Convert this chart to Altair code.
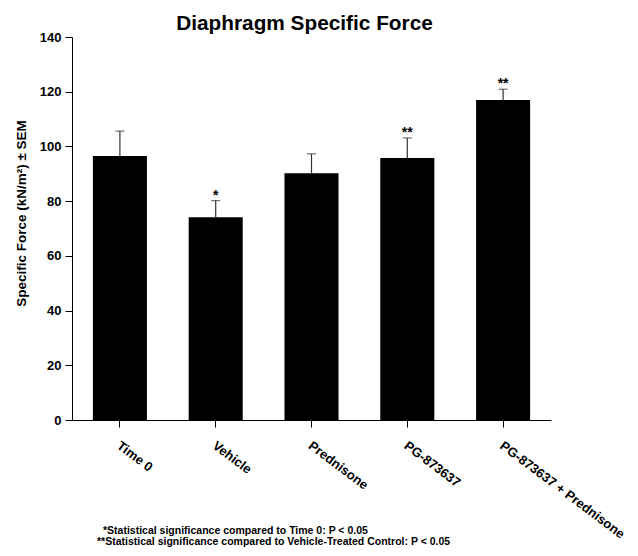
import altair as alt
import pandas as pd

categories = ["Time 0", "Vehicle", "Prednisone", "PG-873637", "PG-873637 + Prednisone"]
means = [96.5, 74.1, 90.2, 95.8, 117.0]
sems = [9.1, 6.1, 7.1, 7.3, 3.9]
stars = ["", "*", "", "**", "**"]
y_ticks = list(range(0, 141, 10))
title_text = "Diaphragm Specific Force"
y_title = "Specific Force (kN/m\u00b2) \u00b1 SEM"
footnotes = [
    "*Statistical significance compared to Time 0: P < 0.05",
    "**Statistical significance compared to Vehicle-Treated Control: P < 0.05",
]

df = pd.DataFrame({"cat": categories, "mean": means, "sem": sems, "star": stars})
df["top"] = df["mean"] + df["sem"]

FONT = "Liberation Sans"

x = alt.X(
    "cat:N",
    sort=categories,
    scale=alt.Scale(paddingInner=0.436, paddingOuter=0.218),
    axis=alt.Axis(
        title=None,
        labelAngle=37,
        labelAlign="left",
        labelBaseline="top",
        labelFontSize=13,
        labelFontWeight="bold",
        labelPadding=12,
        tickSize=7,
        labelOffset=2,
    ),
)
yscale = alt.Scale(domain=[0, 140], nice=False, zero=True)

bars = alt.Chart(df).mark_bar(color="black").encode(
    x=x,
    y=alt.Y(
        "mean:Q",
        scale=yscale,
        axis=alt.Axis(
            values=y_ticks,
            labelExpr="datum.value % 20 === 0 ? datum.label : ''",
            tickSize={"condition": {"test": "datum.value % 20 === 0", "value": 7}, "value": 4},
            labelFontSize=13,
            labelFontWeight="bold",
            labelPadding=4,
            grid=False,
            title=y_title,
            titleFontSize=13.5,
            titleFontWeight="bold",
            titleAngle=270,
            titleX=-51,
            titleY=176,
            titleAlign="center",
            titleBaseline="middle",
        ),
    ),
)

err = alt.Chart(df).mark_rule(color="#333333", strokeWidth=1.2).encode(
    x=alt.X("cat:N", sort=categories),
    y="mean:Q",
    y2="top:Q",
)
caps = alt.Chart(df).mark_tick(color="#333333", orient="horizontal", size=9, thickness=1.2).encode(
    x=alt.X("cat:N", sort=categories),
    y="top:Q",
)
star_text = alt.Chart(df).mark_text(
    font=FONT, fontSize=14, fontWeight="bold", baseline="alphabetic", dy=-1, color="black"
).encode(
    x=alt.X("cat:N", sort=categories),
    y="top:Q",
    text="star:N",
)

fn_df = pd.DataFrame({"t": footnotes})
fn1 = alt.Chart(fn_df.iloc[[0]]).mark_text(
    font=FONT, fontSize=10.5, fontWeight="bold", align="left", baseline="middle", color="black"
).encode(x=alt.value(31), y=alt.value(494), text="t:N")
fn2 = alt.Chart(fn_df.iloc[[1]]).mark_text(
    font=FONT, fontSize=10.5, fontWeight="bold", align="left", baseline="middle", color="black"
).encode(x=alt.value(25), y=alt.value(505), text="t:N")

chart = (
    alt.layer(bars, err, caps, star_text, fn1, fn2)
    .properties(
        width=479,
        height=383,
        background="white",
        autosize=alt.AutoSizeParams(type="none"),
        padding={"left": 64, "top": 29, "right": 79, "bottom": 128},
        title=alt.TitleParams(
            text=title_text,
            font=FONT,
            fontSize=20.8,
            fontWeight="bold",
            anchor="middle",
            dx=-7,
            dy=20,
            offset=0,
            baseline="alphabetic",
            color="black",
        ),
    )
    .configure_view(strokeWidth=0, stroke=None)
    .configure_axis(
        labelFont=FONT,
        titleFont=FONT,
        labelColor="black",
        titleColor="black",
        domainColor="black",
        tickColor="black",
        domainWidth=1,
        tickWidth=1,
    )
)

chart.save("out.html", embed_options={"renderer": "svg", "actions": False})
